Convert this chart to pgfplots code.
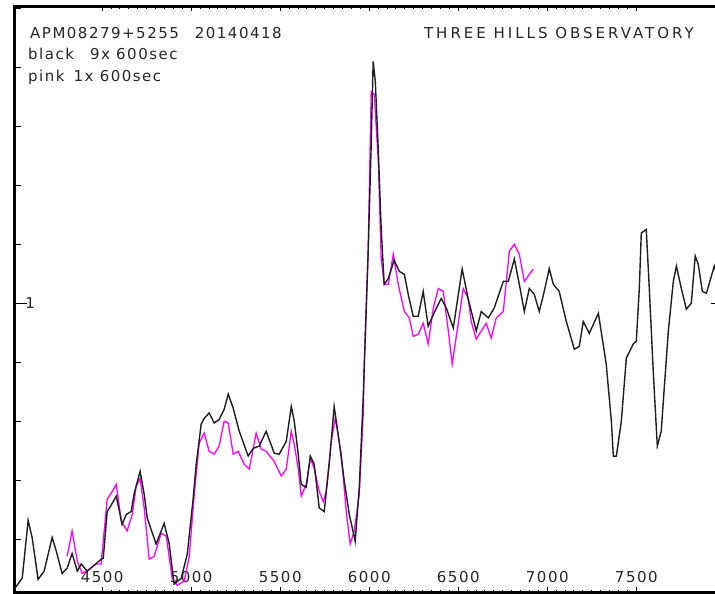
\documentclass[border=0pt]{standalone}
\usepackage{fontspec}
\setmainfont{DejaVu Sans}
\newfontfamily\lbl[LetterSpace=10]{DejaVu Sans}
\newfontfamily\lblwide[LetterSpace=20]{DejaVu Sans}
\usepackage{pgfplots}
\pgfplotsset{compat=1.18}
\usepackage{pgfplotstable}

% stacked spectrum, 9 x 600 s
\pgfplotstableread{
lambda flux
4006 0.515
4017 0.520
4051 0.534
4084 0.632
4107 0.602
4140 0.532
4174 0.546
4219 0.603
4242 0.580
4275 0.542
4303 0.551
4331 0.576
4360 0.546
4382 0.558
4416 0.546
4455 0.556
4494 0.566
4506 0.568
4528 0.647
4551 0.658
4579 0.673
4612 0.625
4635 0.642
4663 0.647
4680 0.678
4713 0.715
4736 0.676
4753 0.636
4803 0.592
4848 0.627
4876 0.593
4904 0.524
4944 0.534
4978 0.575
5011 0.669
5028 0.727
5056 0.795
5073 0.805
5101 0.814
5129 0.797
5157 0.803
5185 0.820
5208 0.846
5236 0.822
5270 0.783
5320 0.741
5348 0.754
5382 0.758
5421 0.783
5466 0.746
5494 0.744
5534 0.766
5562 0.825
5579 0.800
5601 0.744
5618 0.693
5646 0.688
5669 0.741
5691 0.727
5719 0.653
5747 0.647
5775 0.727
5803 0.825
5831 0.766
5860 0.698
5888 0.642
5921 0.597
5944 0.688
5966 0.839
5994 1.088
6011 1.269
6022 1.410
6034 1.376
6051 1.258
6067 1.127
6084 1.032
6107 1.042
6140 1.073
6169 1.054
6197 1.049
6219 1.015
6247 0.978
6275 0.978
6303 1.020
6331 0.961
6360 0.981
6404 1.008
6433 0.992
6472 0.958
6522 1.058
6556 1.007
6601 0.953
6629 0.986
6669 0.975
6702 0.992
6753 1.037
6781 1.037
6815 1.075
6843 1.032
6871 0.986
6899 1.025
6927 1.015
6955 0.986
6983 1.020
7011 1.059
7034 1.032
7067 1.020
7107 0.969
7152 0.922
7180 0.927
7202 0.969
7236 0.949
7287 0.983
7331 0.897
7360 0.800
7371 0.741
7388 0.741
7416 0.800
7444 0.907
7483 0.931
7500 0.936
7517 1.025
7528 1.119
7556 1.125
7573 1.025
7596 0.880
7618 0.758
7640 0.783
7657 0.856
7680 0.953
7708 1.037
7725 1.063
7753 1.025
7781 0.990
7809 1.000
7831 1.080
7848 1.066
7871 1.020
7894 1.017
7938 1.063
7966 1.037
7990 1.025
}\stacked

% single exposure, 1 x 600 s
\pgfplotstableread{
lambda flux
4303 0.571
4331 0.614
4360 0.563
4388 0.542
4427 0.549
4466 0.558
4494 0.558
4528 0.668
4551 0.678
4579 0.693
4607 0.631
4640 0.614
4669 0.642
4691 0.690
4713 0.703
4736 0.653
4764 0.566
4792 0.571
4831 0.610
4860 0.605
4893 0.534
4921 0.522
4961 0.529
4989 0.571
5017 0.676
5045 0.763
5073 0.780
5101 0.749
5129 0.744
5157 0.758
5185 0.800
5208 0.797
5236 0.744
5264 0.749
5298 0.727
5326 0.719
5365 0.780
5393 0.753
5421 0.749
5466 0.732
5506 0.707
5534 0.719
5562 0.783
5579 0.761
5601 0.720
5618 0.673
5646 0.693
5669 0.737
5691 0.720
5719 0.681
5742 0.664
5758 0.681
5787 0.766
5809 0.805
5843 0.744
5871 0.647
5893 0.592
5916 0.614
5944 0.676
5966 0.812
5972 0.897
5994 1.088
6011 1.359
6028 1.354
6051 1.241
6067 1.076
6084 1.032
6107 1.032
6135 1.083
6163 1.032
6197 0.986
6225 0.975
6247 0.944
6275 0.947
6303 0.966
6331 0.931
6360 0.992
6388 1.025
6416 1.020
6444 0.953
6466 0.897
6500 0.966
6528 1.025
6556 1.008
6573 0.969
6601 0.939
6629 0.953
6657 0.966
6685 0.941
6713 0.975
6753 0.986
6770 1.037
6787 1.088
6815 1.100
6843 1.083
6871 1.037
6893 1.046
6921 1.058
}\single

\begin{document}
\begin{tikzpicture}[x=1pt,y=1pt]
\useasboundingbox (0,0) rectangle (715,594);
\begin{axis}[
  at={(8,3)}, anchor=south west,
  scale only axis, width=710pt, height=586pt,
  xmin=4006, xmax=7994, ymin=0.5102, ymax=1.5034,
  axis line style={line width=2.6pt, black},
  tick align=inside,
  xtick={4500,5000,5500,6000,6500,7000,7500},
  minor x tick num=9,
  major tick length=5pt, minor tick length=2.5pt,
  xtick style={line width=1pt, black},
  ytick={0.6,0.7,0.8,0.9,1.1,1.2,1.3,1.4,1.5},
  yticklabels={},
  ytick style={line width=1.2pt, black, /pgfplots/major tick length=7pt},
  extra y ticks={1},
  extra y tick labels={1},
  extra y tick style={
    ytick style={line width=1.2pt, /pgfplots/major tick length=13pt},
    yticklabel style={anchor=west, xshift=11pt, inner sep=0pt}},
  /pgf/number format/assume math mode=true,
  /pgf/number format/1000 sep={},
  xticklabel style={anchor=base, yshift=10pt, xshift=0pt, inner sep=0pt,
    font=\lbl\fontsize{15}{15}\selectfont, text=black!85},
  yticklabel style={font=\lbl\fontsize{15}{15}\selectfont, text=black!85},
]
\addplot[line width=1.3pt, color={rgb,255:red,255;green,0;blue,255}] table[x=lambda, y=flux] {\single};
\addplot[line width=1.4pt, color=black!88] table[x=lambda, y=flux] {\stacked};
\end{axis}
\begin{scope}[every node/.style={inner sep=0pt, text=black!85, font=\lbl\fontsize{15}{15}\selectfont}]
\node[anchor=base west] at (30,555) {APM08279+5255\hspace{16pt}20140418};
\node[anchor=base west] at (28,534) {black\hspace{16pt}9x 600sec};
\node[anchor=base west] at (28,512) {pink\hspace{9pt}1x 600sec};
\node[anchor=base east, font=\lblwide\fontsize{15}{15}\selectfont] at (694,555) {THREE HILLS OBSERVATORY};
\end{scope}
\end{tikzpicture}
\end{document}
